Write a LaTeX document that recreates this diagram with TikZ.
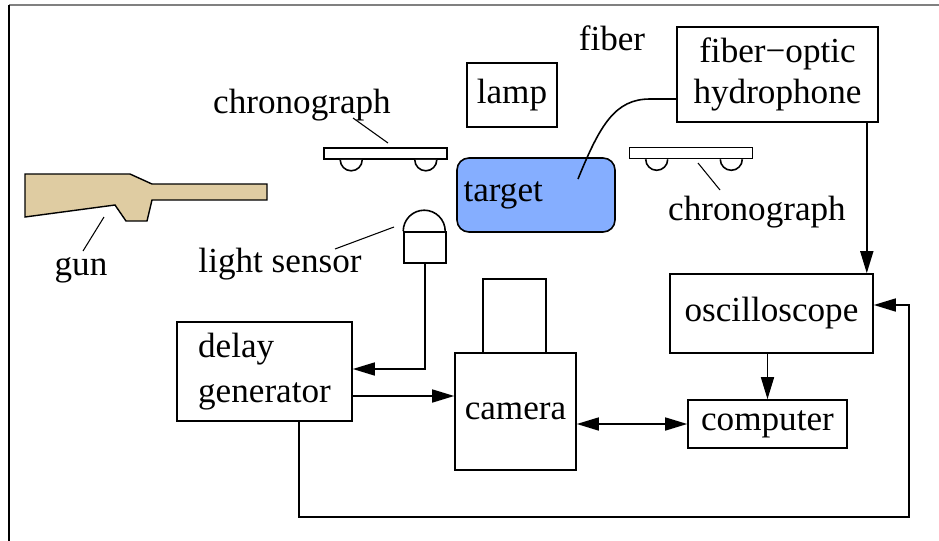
\documentclass[tikz,border=0pt]{standalone}
\usepackage{fontspec}
\setmainfont{Liberation Serif}
\newfontfamily\labelfont{Liberation Serif}
\usetikzlibrary{arrows.meta, calc, positioning}

% chronograph: a flat bar on two half-round feet
\newcommand{\chronograph}[2]{%
  \node[chronobar] (#1) at (#2) {};
  \draw[foot] ([xshift=0.34cm]#1.south west) arc (180:360:0.22);
  \draw[foot] ([xshift=-0.66cm]#1.south east) arc (180:360:0.22);
}

\begin{document}
\begin{tikzpicture}[
  line width=0.9pt,
  every node/.style={font=\labelfont\fontsize{20}{23}\selectfont},
  box/.style={draw, rectangle, inner sep=0pt, align=center},
  chronobar/.style={draw, fill=white, inner sep=0pt, minimum width=2.46cm, minimum height=0.22cm},
  foot/.style={draw, fill=white},
  tag/.style={anchor=base, inner sep=0pt},
  arr/.style={-{Triangle[length=0.44cm, width=0.26cm]}},
  dblarr/.style={{Triangle[length=0.44cm, width=0.26cm]}-{Triangle[length=0.44cm, width=0.26cm]}}
]
\useasboundingbox (0,0) rectangle (18.78,-10.82);

% frame
\draw[gray, line width=1pt] (0.18,-0.1) -- (18.78,-0.1);
\draw[line width=1pt] (0.18,-0.1) -- (0.18,-10.82);

% gun
\draw[fill={rgb,255:red,223;green,204;blue,162}, line width=0.8pt]
  (0.5,-3.48) -- (2.6,-3.48) -- (3.04,-3.68) -- (5.34,-3.68) -- (5.34,-4.0)
  -- (3.04,-4.0) -- (2.94,-4.42) -- (2.52,-4.42) -- (2.3,-4.1) -- (0.5,-4.34) -- cycle;
\node[tag] (gunlbl) at (1.62,-5.5) {gun};
\draw[line width=0.6pt] (2.08,-4.34) -- (1.66,-5.02);

% chronographs
\chronograph{chronoL}{7.71,-3.07}
\chronograph{chronoR}{13.82,-3.06}
\node[tag] (chronoLlbl) at (6.04,-2.26) {chronograph};
\draw[line width=0.6pt] (7.06,-2.36) -- (7.76,-2.86);
\node[tag] (chronoRlbl) at (15.14,-4.4) {chronograph};
\draw[line width=0.6pt] (13.96,-3.26) -- (14.4,-3.8);

% lamp, target, hydrophone
\node[box, minimum width=1.8cm, minimum height=1.28cm] (lamp) at (10.24,-1.9) {lamp};
\node[draw, rounded corners=0.24cm, fill={rgb,255:red,133;green,174;blue,255},
  text width=2.9cm, align=left, minimum height=1.48cm, inner sep=0.13cm] (target) at (10.72,-3.9) {target};
\node[box, minimum width=4.02cm, minimum height=1.9cm] (hydro) at (15.55,-1.49) {fiber−optic\\hydrophone};
\node[tag] (fiberlbl) at (12.24,-1.0) {fiber};
\coordinate (fibtip) at (11.56,-3.58);
\coordinate (fibin) at (13.54,-1.98);
\draw (fibtip) .. controls (12.0,-2.5) and (12.3,-1.98) .. (13.0,-1.98) -- (fibin);

% light sensor
\node[box, minimum width=0.84cm, minimum height=0.62cm] (sensor) at (8.5,-4.95) {};
\draw (sensor.north west) arc (180:0:0.42);
\node[tag] (sensorlbl) at (5.6,-5.44) {light sensor};
\draw[line width=0.6pt] (6.7,-4.98) -- (7.88,-4.54);

% electronics
\node[box, minimum width=3.5cm, minimum height=1.98cm, align=left,
  font=\labelfont\fontsize{20}{25.5}\selectfont] (delay) at (5.29,-7.43) {delay\\generator};
\node[box, minimum width=1.26cm, minimum height=1.48cm] (lens) at (10.29,-6.32) {};
\node[box, minimum width=2.42cm, minimum height=2.34cm] (cam) at (10.31,-8.23) {camera};
\node[box, minimum width=4.06cm, minimum height=1.58cm] (osc) at (15.43,-6.27) {oscilloscope};
\node[box, minimum width=3.18cm, minimum height=0.96cm] (comp) at (15.35,-8.48) {computer};

% signal lines
\draw[arr] (sensor.south) |- ([yshift=0.05cm]delay.east);
\draw[arr] ([yshift=-0.49cm]delay.east) -- ([yshift=-0.49cm]delay.east -| cam.west);
\draw[arr] ([xshift=-0.14cm]osc.north east |- hydro.south) -- ([xshift=-0.14cm]osc.north east);
\draw[arr] (osc.south -| comp.north) -- (comp.north);
\draw[dblarr] (cam.east |- comp.west) -- (comp.west);
\coordinate (loopcorner) at (18.18,-10.34);
\draw[arr] ([xshift=0.69cm]delay.south) |- (loopcorner) |- ([yshift=0.17cm]osc.east);

\end{tikzpicture}
\end{document}
